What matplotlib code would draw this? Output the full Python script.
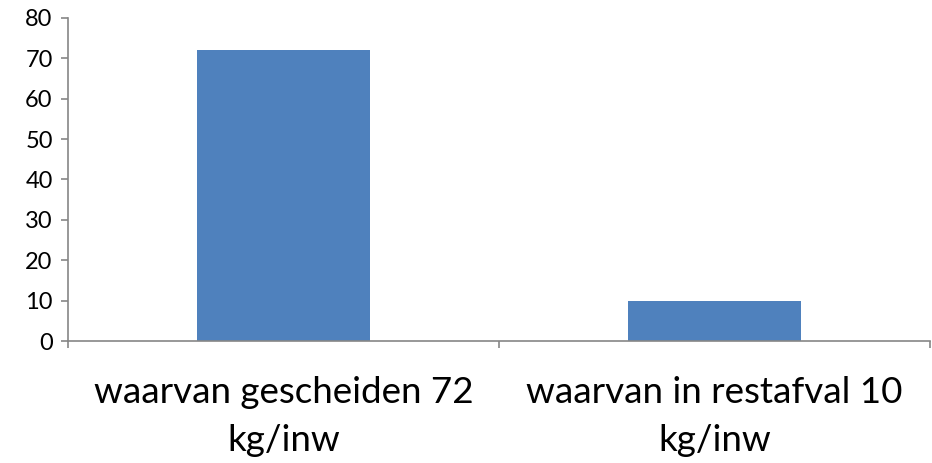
import matplotlib.pyplot as plt

categories = ["waarvan gescheiden 72\nkg/inw", "waarvan in restafval 10\nkg/inw"]
values = [72, 10]
y_ticks = [0, 10, 20, 30, 40, 50, 60, 70, 80]

plt.rcParams['font.family'] = ['Lato', 'DejaVu Sans']

fig = plt.figure(figsize=(9.32, 4.63), dpi=100)
ax = fig.add_axes([68 / 932, 1 - 341 / 463, (930 - 68) / 932, (341 - 18) / 463])

pos = list(range(len(categories)))
ax.bar(pos, values, width=0.4, color='#4F81BD')

ax.set_xlim(-0.5, len(categories) - 0.5)
ax.set_ylim(0, 80)
ax.set_yticks(y_ticks)
ax.tick_params(axis='y', labelsize=17, length=5, color='#868686', width=1.2, pad=6)

# category borders as tick marks, labels in the middle
ax.set_xticks([p - 0.5 for p in pos] + [pos[-1] + 0.5])
ax.set_xticklabels([])
ax.set_xticks(pos, minor=True)
ax.set_xticklabels(categories, minor=True, fontsize=26.5, linespacing=1.55)
ax.tick_params(axis='x', which='major', length=5, color='#868686', width=1.2)
ax.tick_params(axis='x', which='minor', length=0, pad=25)

for s in ['top', 'right']:
    ax.spines[s].set_visible(False)
for s in ['left', 'bottom']:
    ax.spines[s].set_color('#868686')
    ax.spines[s].set_linewidth(1.2)

fig.savefig('out.png', dpi=100)
